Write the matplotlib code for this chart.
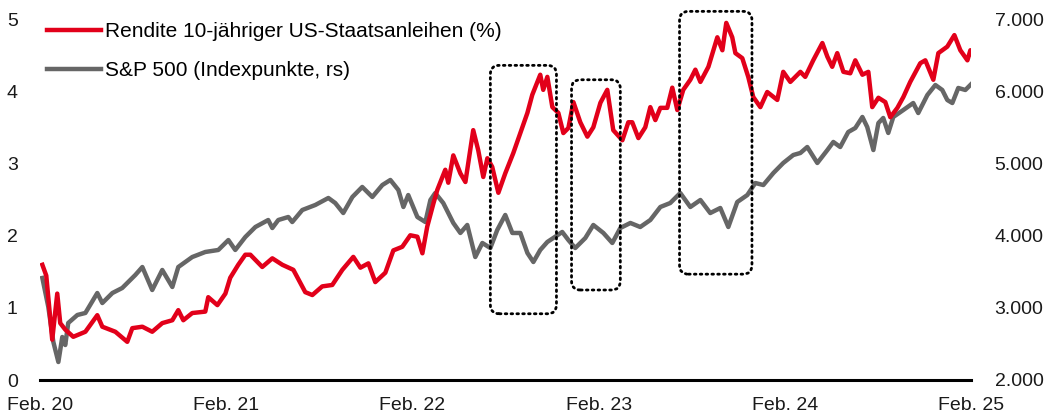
import matplotlib
matplotlib.use("Agg")
import matplotlib.pyplot as plt
from matplotlib.patches import FancyBboxPatch
from matplotlib.ticker import FuncFormatter

plt.rcParams['font.family'] = ['Liberation Sans', 'DejaVu Sans']

# time axis in decimal years (Feb 1st = year + 0.085)
yield_t = [2020.096, 2020.117, 2020.149, 2020.176, 2020.192, 2020.219, 2020.262, 2020.327,
           2020.391, 2020.418, 2020.488, 2020.552, 2020.579, 2020.633, 2020.686, 2020.740,
           2020.794, 2020.826, 2020.853, 2020.901, 2020.971, 2020.987, 2021.036, 2021.079,
           2021.105, 2021.148, 2021.186, 2021.213, 2021.277, 2021.331, 2021.385, 2021.444,
           2021.508, 2021.546, 2021.599, 2021.653, 2021.707, 2021.766, 2021.804, 2021.847,
           2021.884, 2021.938, 2021.981, 2022.029, 2022.072, 2022.110, 2022.137, 2022.163,
           2022.196, 2022.217, 2022.260, 2022.276, 2022.303, 2022.341, 2022.368, 2022.410,
           2022.437, 2022.464, 2022.486, 2022.512, 2022.545, 2022.582, 2022.625, 2022.663,
           2022.701, 2022.727, 2022.770, 2022.786, 2022.808, 2022.835, 2022.867, 2022.894,
           2022.921, 2022.948, 2022.985, 2023.023, 2023.055, 2023.093, 2023.130, 2023.162,
           2023.211, 2023.243, 2023.264, 2023.297, 2023.334, 2023.361, 2023.388, 2023.415,
           2023.452, 2023.479, 2023.506, 2023.538, 2023.576, 2023.603, 2023.630, 2023.673,
           2023.721, 2023.748, 2023.769, 2023.801, 2023.818, 2023.855, 2023.887, 2023.914,
           2023.952, 2023.989, 2024.043, 2024.075, 2024.113, 2024.167, 2024.193, 2024.236,
           2024.285, 2024.312, 2024.338, 2024.365, 2024.398, 2024.435, 2024.462, 2024.500,
           2024.532, 2024.553, 2024.586, 2024.623, 2024.650, 2024.688, 2024.720, 2024.757,
           2024.811, 2024.838, 2024.881, 2024.908, 2024.956, 2024.994, 2025.026, 2025.064,
           2025.080, 2025.096]
yield_10y = [1.60, 1.45, 0.56, 1.20, 0.79, 0.70, 0.60, 0.67,
             0.90, 0.74, 0.67, 0.53, 0.72, 0.74, 0.67, 0.79,
             0.83, 0.97, 0.83, 0.93, 0.95, 1.15, 1.04, 1.20,
             1.42, 1.60, 1.74, 1.74, 1.57, 1.69, 1.60, 1.53,
             1.22, 1.18, 1.30, 1.32, 1.53, 1.71, 1.56, 1.62,
             1.36, 1.49, 1.80, 1.85, 2.01, 1.99, 1.76, 2.13,
             2.45, 2.64, 2.92, 2.74, 3.12, 2.87, 2.75, 3.47,
             3.19, 2.82, 3.08, 2.96, 2.60, 2.87, 3.15, 3.43,
             3.71, 3.96, 4.24, 4.03, 4.21, 3.79, 3.71, 3.43,
             3.50, 3.86, 3.58, 3.38, 3.51, 3.85, 4.03, 3.47,
             3.33, 3.58, 3.58, 3.36, 3.51, 3.79, 3.61, 3.78,
             3.78, 4.06, 3.75, 4.03, 4.17, 4.31, 4.14, 4.35,
             4.76, 4.58, 4.96, 4.76, 4.54, 4.47, 4.21, 3.93,
             3.79, 4.00, 3.89, 4.28, 4.14, 4.28, 4.21, 4.44,
             4.68, 4.49, 4.35, 4.54, 4.28, 4.26, 4.44, 4.24,
             4.28, 3.79, 3.92, 3.86, 3.65, 3.78, 3.93, 4.14,
             4.40, 4.44, 4.17, 4.54, 4.63, 4.79, 4.58, 4.44,
             4.58, 4.49]

spx_t = [2020.096, 2020.128, 2020.155, 2020.182, 2020.203, 2020.219, 2020.235, 2020.284,
         2020.327, 2020.391, 2020.418, 2020.472, 2020.525, 2020.595, 2020.633, 2020.686,
         2020.740, 2020.794, 2020.826, 2020.901, 2020.971, 2021.041, 2021.095, 2021.132,
         2021.186, 2021.240, 2021.309, 2021.331, 2021.363, 2021.417, 2021.438, 2021.492,
         2021.562, 2021.632, 2021.669, 2021.712, 2021.761, 2021.814, 2021.868, 2021.922,
         2021.965, 2022.008, 2022.035, 2022.061, 2022.110, 2022.153, 2022.180, 2022.206,
         2022.249, 2022.303, 2022.341, 2022.378, 2022.421, 2022.459, 2022.502, 2022.539,
         2022.582, 2022.620, 2022.663, 2022.701, 2022.733, 2022.770, 2022.808, 2022.840,
         2022.888, 2022.921, 2022.958, 2023.012, 2023.055, 2023.109, 2023.157, 2023.200,
         2023.254, 2023.307, 2023.361, 2023.415, 2023.468, 2023.522, 2023.576, 2023.630,
         2023.683, 2023.737, 2023.780, 2023.828, 2023.882, 2023.925, 2023.968, 2024.022,
         2024.075, 2024.129, 2024.167, 2024.204, 2024.258, 2024.312, 2024.344, 2024.381,
         2024.424, 2024.462, 2024.500, 2024.526, 2024.559, 2024.586, 2024.612, 2024.639,
         2024.666, 2024.720, 2024.773, 2024.800, 2024.849, 2024.892, 2024.929, 2024.956,
         2024.983, 2025.015, 2025.053, 2025.096]
spx = [3417, 3014, 2528, 2250, 2597, 2486, 2792, 2903,
       2931, 3208, 3069, 3208, 3278, 3458, 3569, 3250,
       3528, 3292, 3569, 3708, 3778, 3806, 3944, 3806,
       3986, 4125, 4222, 4111, 4222, 4264, 4194, 4361,
       4431, 4528, 4458, 4319, 4542, 4681, 4542, 4708,
       4778, 4639, 4403, 4569, 4264, 4194, 4500, 4597,
       4458, 4181, 4042, 4153, 3708, 3903, 3833, 4083,
       4292, 4042, 4042, 3764, 3639, 3806, 3917, 3972,
       4056, 3944, 3833, 3972, 4153, 4042, 3903, 4111,
       4181, 4125, 4222, 4403, 4458, 4597, 4403, 4500,
       4319, 4389, 4125, 4472, 4569, 4736, 4708, 4875,
       5014, 5125, 5153, 5236, 5014, 5194, 5306, 5236,
       5444, 5500, 5653, 5514, 5194, 5569, 5639, 5431,
       5653, 5750, 5847, 5708, 5958, 6097, 6028, 5889,
       5847, 6056, 6028, 6139]

tick_years = [2020, 2021, 2022, 2023, 2024, 2025]
tick_labels = ["Feb. 20", "Feb. 21", "Feb. 22", "Feb. 23", "Feb. 24", "Feb. 25"]

# highlighted periods: (start, end, low, high) in years / left-axis units
boxes = [(2022.502, 2022.857, 0.92, 4.37),
         (2022.938, 2023.200, 1.25, 4.17),
         (2023.518, 2023.907, 1.47, 5.12)]

red = '#e2001a'
grey = '#666666'

fig = plt.figure(figsize=(10.49, 4.19), dpi=100)
ax = fig.add_axes([40 / 1049, 1 - 380 / 419, 931 / 1049, 360 / 419])
ax2 = ax.twinx()

l1, = ax.plot(yield_t, yield_10y, color=red, lw=3.2, solid_joinstyle='round',
              label='Rendite 10-jähriger US-Staatsanleihen (%)')
l2, = ax2.plot(spx_t, spx, color=grey, lw=3.2, solid_joinstyle='round',
               label='S&P 500 (Indexpunkte, rs)')

x0 = 2020 + 1 / 12
ax.set_xlim(x0, x0 + 5)
ax.set_ylim(0, 5)
ax2.set_ylim(2000, 7000)

ax.set_xticks([y + 1 / 12 for y in tick_years])
ax.set_xticklabels(tick_labels)
ax.set_yticks(range(0, 6))
ax2.set_yticks(range(2000, 7001, 1000))
ax2.yaxis.set_major_formatter(FuncFormatter(lambda v, p: f"{int(v):,}".replace(',', '.')))

for a in (ax, ax2):
    for s in a.spines.values():
        s.set_visible(False)
    a.tick_params(length=0, labelsize=14, colors='#1a1a1a')
ax.spines['bottom'].set_visible(True)
ax.spines['bottom'].set_linewidth(2.2)
ax.spines['bottom'].set_color('black')
ax.tick_params(axis='x', pad=12)
ax.tick_params(axis='y', pad=16)
ax2.tick_params(axis='y', pad=17)

# dotted rounded boxes
px_yr = 5 / 931
px_val = 5 / 360
for (t0, t1, lo, hi) in boxes:
    p = FancyBboxPatch((t0, lo), t1 - t0, hi - lo,
                       boxstyle="round,pad=0,rounding_size=%f" % (9 * px_yr),
                       mutation_aspect=px_val / px_yr,
                       fill=False, ec='black', lw=2.0, ls=(0, (0.6, 1.5)),
                       capstyle='round', zorder=5, clip_on=False)
    ax.add_patch(p)

leg = ax.legend(handles=[l1, l2], loc='upper left', bbox_to_anchor=(-0.001, 1.017),
                frameon=False, fontsize=15, handlelength=2.55, handletextpad=0.2,
                labelspacing=0.95, borderaxespad=0.0)
leg.set_zorder(10)
ax.set_zorder(ax2.get_zorder() + 1)
ax.patch.set_visible(False)

fig.savefig('out.png', dpi=100)
